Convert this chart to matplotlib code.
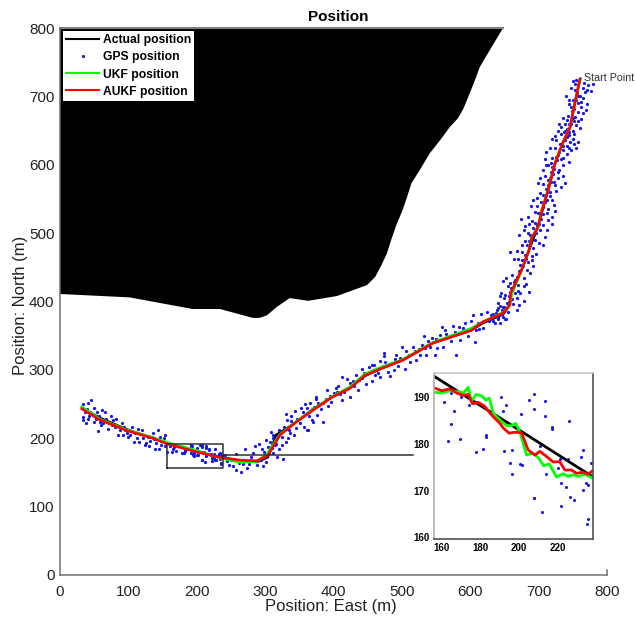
import numpy as np
import matplotlib
matplotlib.use("Agg")
import matplotlib.pyplot as plt

plt.rcParams['font.family'] = ['Liberation Sans', 'DejaVu Sans']

# terrain outline (east, north)
terrain_east = [0, 102, 156, 194, 234, 282, 292, 303, 317, 336, 363, 405, 449, 461, 470, 478, 485, 492, 500, 507,
                514, 526, 541, 556, 570, 582, 590, 599, 607, 614, 624, 636, 648]
terrain_north = [411, 406, 396, 389, 389, 376, 376, 380, 392, 405, 401, 408, 424, 436, 453, 470, 492, 512, 531, 551,
                 573, 592, 617, 636, 655, 668, 682, 704, 724, 743, 760, 780, 800]

# trajectories, full scale
true_east = [32, 58, 98, 136, 156, 200, 238, 263, 288, 304, 316, 346, 370, 398, 424, 446, 470,
             501, 545, 575, 602, 618, 648, 656, 660, 675, 686, 699, 714, 724, 735, 746, 753, 761]
true_north = [245, 230, 213, 200, 193, 180, 172, 167, 165, 172, 205, 224, 243, 260, 274, 291, 302,
              314, 339, 349, 358, 368, 381, 392, 412, 446, 475, 509, 563, 602, 631, 655, 690, 726]
ukf_east = [32, 58, 98, 136, 156, 200, 234, 263, 288, 302, 322, 346, 370, 398, 424, 446, 470,
            501, 545, 575, 602, 618, 648, 658, 661, 675, 686, 690, 699, 705, 714, 724, 735, 746, 753, 760]
ukf_north = [246, 228, 212, 201, 194, 182, 171, 165, 166, 176, 206, 225, 242, 261, 275, 294, 304,
             315, 340, 351, 361, 370, 384, 395, 412, 445, 476, 494, 508, 535, 564, 603, 631, 656, 690, 724]
aukf_east = [32, 58, 98, 136, 156, 200, 234, 263, 288, 304, 322, 346, 370, 398, 424, 446, 470,
             501, 545, 575, 602, 618, 648, 658, 659, 675, 686, 690, 699, 705, 714, 724, 735, 746, 753, 760]
aukf_north = [243, 227, 211, 200, 192, 180, 172, 168, 167, 175, 205, 224, 241, 260, 273, 292, 302,
              314, 339, 349, 358, 370, 383, 395, 412, 446, 475, 493, 509, 534, 563, 602, 631, 655, 690, 724]

# trajectories, zoomed part
zoom_true_east = [155.7, 197, 238.4]
zoom_true_north = [194.6, 183.8, 172.9]
zoom_ukf_east = [155.7, 160, 164.3, 168.6, 171.2, 173.8, 175.5, 177.8, 180.7, 182.9, 184.7, 186.7, 190.2,
                 193.6, 196.2, 198.4, 200.5, 204, 207.1, 210, 212.9, 215.7, 219.5, 222.9, 225.5, 228.1,
                 230.7, 234.1, 238.4]
zoom_ukf_north = [191.1, 190.9, 191.4, 191.2, 190.9, 192.1, 189.1, 190.6, 190.3, 189.4, 189.8, 186.6, 185.1,
                  183.9, 183.9, 184.4, 182.6, 177.6, 178, 177.1, 175.3, 175.7, 172.9, 173.6, 173, 173.4,
                  173, 173.5, 172.6]
zoom_aukf_east = [155.7, 160, 164.3, 167.8, 171.2, 173.8, 176, 179, 182.4, 185.9, 190.2, 191.9, 195, 197.9,
                  201.4, 204.8, 208.3, 210.9, 214.3, 217.8, 221.2, 223.8, 227.2, 229.8, 233.3, 235.9, 238.1]
zoom_aukf_north = [192.1, 191.4, 191.8, 190.9, 190.4, 190.6, 188.6, 188.9, 188, 186.2, 184.4, 183.4, 182.3,
                   182.5, 182.4, 178.7, 177.6, 178.4, 177.3, 176.1, 176.2, 174.4, 174.4, 173.7, 173.9,
                   173.5, 174.2]

# GPS fixes inside the zoomed box
zoom_gps = [(161, 189), (165, 191), (166.4, 187), (165, 184.2), (163.4, 180.6), (169.3, 181), (170, 190),
            (174, 188.4), (178, 178.3), (181.4, 178.9), (183, 182), (183, 181.5), (191, 190), (193.6, 188.3),
            (192, 187), (192.2, 178.5), (195.2, 175.9), (196.7, 178.7), (196.2, 173.5), (200.5, 175.7),
            (201.4, 175.4), (201, 186.4), (205, 189.4), (208, 190.6), (208, 187.4), (213.6, 189.1),
            (213.4, 185.9), (217.2, 183.1), (217.4, 183.7), (226, 184.8), (207.6, 168.4), (208, 168.4),
            (212, 165.3), (221.9, 166.6), (214, 173.5), (220.5, 174.8), (221.8, 171.6), (221.2, 176.8),
            (225.2, 176.8), (224.5, 170.8), (226.6, 168.7), (228.6, 167.9), (232.4, 177.1), (233.3, 178.6),
            (233.4, 170.1), (234.7, 171.6), (236, 171.2), (237.6, 176), (235.9, 163.8), (235.3, 162.9),
            (210.9, 179.6)]

# GPS fixes elsewhere on the track
gps_west = [(34, 250), (41, 251), (45, 256), (50, 244), (62, 242), (66, 239), (33, 231), (34, 227), (41, 228),
            (49, 224), (55, 210), (63, 222), (75, 232), (70, 214), (85, 205), (92, 205), (90, 222), (105, 216),
            (114, 213), (108, 195), (116, 195), (124, 190), (126, 193), (136, 208), (144, 212), (146, 202),
            (153, 205), (148, 190), (145, 185), (156, 180), (36, 238), (40, 243), (43, 233), (47, 236), (52, 228),
            (58, 224), (57, 233), (72, 222), (78, 226), (80, 216), (84, 218), (88, 212), (95, 212), (98, 208),
            (103, 205), (110, 208), (118, 206), (122, 201), (128, 202), (132, 196), (138, 199), (141, 193),
            (150, 196), (153, 188), (155, 193), (38, 222), (44, 239), (54, 238), (60, 219), (68, 228), (76, 220),
            (82, 228), (94, 216), (100, 202), (112, 200), (120, 212), (130, 188), (134, 202), (139, 184),
            (147, 196), (152, 200)]
gps_bend = [(247, 161), (258, 154), (265, 151), (253, 159), (273, 157), (270, 184), (258, 177), (279, 172),
            (285, 189), (291, 192), (288, 161), (297, 160), (295, 185), (304, 187), (301, 197), (312, 200),
            (309, 209), (320, 212), (326, 170), (321, 185), (331, 236), (332, 227), (343, 240), (336, 207),
            (341, 222), (361, 212), (368, 227), (375, 260), (316, 192), (312, 178), (324, 202), (331, 195),
            (241, 175), (250, 168), (262, 164), (276, 162), (300, 172), (306, 178), (302, 165), (310, 186),
            (244, 166), (268, 162), (282, 178), (294, 168), (298, 180), (307, 195), (314, 190), (318, 204),
            (327, 216), (334, 201), (338, 232), (347, 228), (352, 244), (357, 216)]
gps_middle = [(351, 222), (362, 212), (370, 224), (384, 224), (361, 244), (366, 251), (375, 258), (378, 251),
              (390, 270), (400, 266), (397, 253), (412, 290), (407, 276), (412, 256), (424, 281), (429, 283),
              (424, 261), (436, 270), (441, 302), (444, 296), (438, 285), (456, 307), (459, 307), (468, 313),
              (457, 284), (468, 289), (474, 325), (474, 320), (479, 297), (482, 291), (492, 322), (495, 305),
              (500, 334), (504, 302), (517, 334), (519, 328), (521, 314), (532, 349), (529, 336), (536, 322),
              (541, 334), (548, 322), (558, 362), (556, 351), (560, 334), (568, 348), (575, 364), (580, 353),
              (579, 322), (585, 343), (593, 368), (604, 380), (607, 341), (590, 361), (616, 382), (609, 358),
              (619, 361), (631, 380), (636, 368), (641, 390), (646, 387), (638, 383), (653, 375), (648, 378),
              (612, 368), (355, 238), (372, 245), (385, 252), (395, 262), (405, 268), (418, 272), (430, 276),
              (442, 288), (450, 296), (462, 300), (472, 305), (485, 310), (497, 318), (510, 322), (525, 330),
              (538, 342), (550, 345), (565, 352), (578, 355), (590, 355), (600, 360), (622, 372), (628, 372),
              (640, 378), (655, 385), (345, 215), (338, 225), (330, 213), (342, 205), (325, 190), (318, 172),
              (312, 205), (335, 212), (376, 234), (381, 243), (392, 247), (403, 273), (409, 264), (416, 268),
              (433, 292), (447, 280), (452, 304), (465, 296), (476, 312), (488, 300), (490, 316), (506, 328),
              (512, 312), (527, 322), (534, 332), (544, 346), (552, 332), (563, 358), (572, 342), (583, 362),
              (597, 350), (601, 372), (613, 360), (625, 384), (633, 372), (643, 368), (650, 392), (460, 292),
              (420, 286), (389, 258), (364, 232), (358, 250)]
gps_north_leg = [(750, 723), (755, 724), (753, 718), (766, 719), (772, 716), (779, 718), (771, 709), (777, 708),
                 (753, 709), (740, 700), (760, 701), (765, 697), (750, 695), (771, 689), (745, 689), (748, 684),
                 (762, 684), (758, 677), (765, 675), (753, 670), (735, 669), (741, 665), (762, 667), (738, 660),
                 (755, 658), (748, 660), (760, 654), (728, 650), (741, 653), (750, 650), (733, 645), (745, 643),
                 (738, 641), (720, 637), (758, 633), (726, 636), (750, 638), (731, 631), (742, 627), (748, 621),
                 (724, 624), (716, 624), (736, 621), (710, 609), (719, 610), (741, 615), (728, 614), (724, 604),
                 (736, 599), (711, 599), (730, 592), (702, 581), (709, 583), (721, 587), (716, 580), (728, 581),
                 (706, 572), (714, 570), (738, 573), (724, 570), (733, 568), (692, 548), (702, 558), (709, 553),
                 (719, 548), (722, 541), (697, 539), (714, 536), (695, 531), (712, 529), (719, 524), (674, 520),
                 (690, 518), (714, 519), (719, 514), (686, 514), (707, 512), (678, 504), (692, 507), (702, 505),
                 (685, 500), (709, 495), (680, 489), (695, 490), (700, 485), (683, 483), (658, 472), (669, 474),
                 (675, 473), (692, 478), (680, 468), (690, 466), (685, 458), (673, 453), (692, 452), (683, 446),
                 (661, 439), (653, 435), (666, 431), (648, 430), (678, 434), (658, 427), (670, 424), (678, 422),
                 (663, 419), (645, 412), (651, 410), (643, 408), (658, 414), (673, 412), (686, 414), (649, 405),
                 (678, 401), (668, 405), (663, 397), (644, 393), (653, 390), (639, 388), (668, 388), (634, 382),
                 (646, 382), (651, 375), (641, 375), (758, 700), (754, 695), (757, 690), (749, 678), (752, 664),
                 (745, 660), (744, 648), (738, 636), (735, 628), (730, 618), (727, 607), (720, 596), (718, 589),
                 (713, 577), (711, 565), (706, 556), (703, 546), (699, 529), (703, 520), (697, 512), (696, 500),
                 (691, 495), (688, 483), (684, 474), (681, 462), (677, 452), (672, 444), (669, 436), (664, 428),
                 (659, 420), (656, 408), (661, 404), (654, 398), (648, 392), (680, 510), (706, 538), (712, 548),
                 (716, 560), (722, 575), (728, 590), (735, 610), (744, 625), (750, 668), (756, 705), (748, 712),
                 (765, 712), (742, 640), (733, 655), (725, 612), (718, 575), (710, 545), (695, 515), (686, 488),
                 (676, 460), (670, 415), (690, 460), (700, 530), (714, 600), (738, 650), (752, 630), (768, 706),
                 (744, 694), (762, 692), (752, 682), (770, 680), (743, 672), (757, 664), (730, 660), (752, 645),
                 (737, 648), (724, 642), (746, 634), (755, 625), (711, 618), (733, 608), (718, 602), (744, 604),
                 (706, 592), (723, 594), (735, 584), (699, 574), (712, 560), (726, 562), (697, 552), (717, 555),
                 (689, 540), (707, 528), (724, 532), (684, 524), (701, 513), (712, 505), (672, 497), (688, 497),
                 (706, 482), (676, 482), (664, 462), (696, 470), (670, 462), (688, 442), (655, 422), (665, 412),
                 (682, 426), (640, 398), (658, 402), (672, 395)]

x_ticks = [0, 100, 200, 300, 400, 500, 600, 700, 800]
y_ticks = [0, 100, 200, 300, 400, 500, 600, 700, 800]
zoom_x_ticks = [160, 180, 200, 220]
zoom_y_ticks = [160, 170, 180, 190]

W, H = 635, 617
gps_all = np.array(gps_west + zoom_gps + gps_bend + gps_middle + gps_north_leg)
zoom_pts = np.array(zoom_gps)

fig = plt.figure(figsize=(W / 100, H / 100), dpi=100)
ax = fig.add_axes([60 / W, 1 - 575 / H, 547 / W, 547 / H])

ax.fill(terrain_east + [0], terrain_north + [800], facecolor='k', edgecolor='none', zorder=1)
ax.plot([0, 648], [800, 800], color='#808080', lw=1.5, zorder=2, clip_on=False)

ax.plot(true_east, true_north, color='k', lw=1.6, label='Actual position', zorder=3)
ax.plot(gps_all[:, 0], gps_all[:, 1], ls='none', marker='o', ms=2.3, mec='none', color='#1414e6',
        label='GPS position', zorder=3)
ax.plot(ukf_east, ukf_north, color='#00ff00', lw=1.9, label='UKF position', zorder=4)
ax.plot(aukf_east, aukf_north, color='#ff0000', lw=1.9, label='AUKF position', zorder=5)

# zoom box and its leader
ax.plot([157, 239, 239, 157, 157], [156, 156, 192, 192, 156], color='#303030', lw=1.1, zorder=6)
ax.plot([239, 517], [175, 175], color='#303030', lw=1.1, zorder=6)

ax.text(766, 727, 'Start Point', fontsize=7.7, color='#303030', va='center', zorder=7, clip_on=False)

ax.set_xlim(0, 800)
ax.set_ylim(0, 800)
ax.set_xticks(x_ticks)
ax.set_yticks(y_ticks)
ax.tick_params(length=0, labelsize=11, labelcolor='#222222')
ax.tick_params(axis='x', pad=7)
ax.tick_params(axis='y', pad=4)
ax.spines['top'].set_visible(False)
ax.spines['right'].set_bounds(0, 7)
for s in ['left', 'bottom', 'right']:
    ax.spines[s].set_color('#707070')
    ax.spines[s].set_linewidth(1.1)

fig.text(338 / W, 1 - 17 / H, 'Position', fontsize=11, fontweight='bold', ha='center', va='center')
fig.text(331 / W, 1 - 606 / H, 'Position: East (m)', fontsize=12, color='#222222', ha='center', va='center')
fig.text(21 / W, 1 - 305 / H, 'Position: North (m)', fontsize=12, color='#222222', rotation=90,
         ha='center', va='center')

leg = ax.legend(loc='upper left', bbox_to_anchor=(0.005, 0.995), borderaxespad=0, fancybox=False, frameon=True,
                framealpha=1, edgecolor='none', facecolor='w', prop={'weight': 'bold', 'size': 8.7},
                handlelength=2.7, handletextpad=0.3, labelspacing=0.42, borderpad=0.3, markerscale=1)
leg.set_zorder(10)
for h in leg.get_lines():
    h.set_linewidth(1.5)

axz = fig.add_axes([433.7 / W, 1 - 539 / H, 159.3 / W, 166 / H], zorder=5)
axz.plot(zoom_pts[:, 0], zoom_pts[:, 1], ls='none', marker='o', ms=2.2, mec='none', color='#1414e6')
axz.plot(zoom_true_east, zoom_true_north, color='k', lw=2)
axz.plot(zoom_ukf_east, zoom_ukf_north, color='#00ff00', lw=2)
axz.plot(zoom_aukf_east, zoom_aukf_north, color='#ff0000', lw=2)
axz.set_xlim(155.9, 238.4)
axz.set_ylim(159.6, 195.2)
axz.set_xticks(zoom_x_ticks)
axz.set_yticks(zoom_y_ticks)
axz.tick_params(length=0, labelsize=7, pad=3)
for lab in axz.get_xticklabels() + axz.get_yticklabels():
    lab.set_fontweight('bold')
for s, c in [('top', '#c8c8c8'), ('left', '#b0b0b0'), ('right', '#505050'), ('bottom', '#505050')]:
    axz.spines[s].set_color(c)
    axz.spines[s].set_linewidth(1.2)

fig.savefig('out.png', dpi=100)
